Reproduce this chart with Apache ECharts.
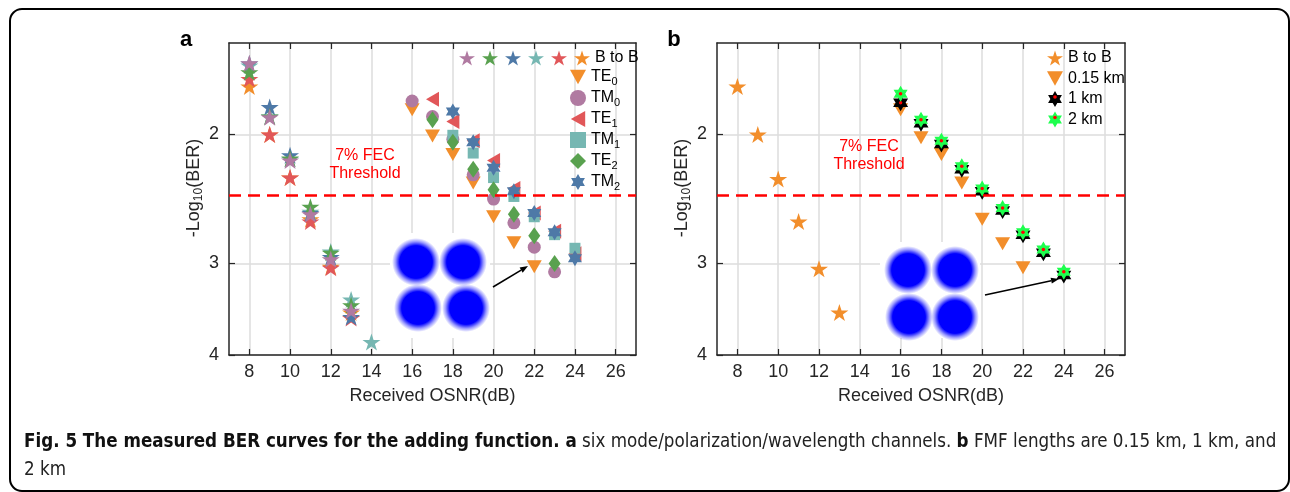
<!DOCTYPE html>
<html><head><meta charset="utf-8">
<script src="https://cdn.jsdelivr.net/npm/echarts@6/dist/echarts.min.js"></script>
<style>html,body{margin:0;padding:0;background:#fff}#c{width:1290px;height:492px}</style>
</head><body><div id="c"></div>
<script>
// ---------------- data ----------------
const xTicks = [8, 10, 12, 14, 16, 18, 20, 22, 24, 26];
const yTicks = [2, 3, 4];
const fecThreshold = 2.42;

// panel a: back-to-back (stars)
const osnrBtB = [8, 9, 10, 11, 12, 13, 14];
const btbTE0 = [1.72, 2.00, 2.29, 2.61, 3.03, 3.50, null];   // orange
const btbTE1 = [1.68, 2.00, 2.29, 2.63, 3.04, 3.56, null];   // red
const btbTM1 = [1.61, 1.89, 2.16, 2.55, 2.89, 3.36, 3.84];   // teal
const btbTM2 = [1.60, 1.835, 2.134, 2.56, 2.94, 3.55, null]; // blue
const btbTE2 = [1.644, 1.89, 2.156, 2.51, 2.90, 3.42, null]; // green
const btbTM0 = [1.598, 1.894, 2.17, 2.57, 2.96, 3.48, null]; // purple

// panel a: after transmission
const osnrMeas = [16, 17, 18, 19, 20, 21, 22, 23, 24];
const measTE0 = [1.85, 2.01, 2.13, 2.33, 2.59, 2.81, 3.03, null, null];
const measTM0 = [1.80, 1.89, 2.03, 2.27, 2.45, 2.64, 2.85, 3.08, null];
const measTE1 = [null, 1.79, 1.92, 2.04, 2.17, 2.37, 2.56, 2.71, 2.91];
const measTM1 = [null, null, 2.005, 2.12, 2.29, 2.43, 2.59, 2.74, 2.86];
const measTE2 = [null, 1.91, 2.05, 2.23, 2.38, 2.57, 2.75, 3.00, null];
const measTM2 = [null, null, 1.86, 2.05, 2.22, 2.39, 2.56, 2.72, 2.95];

// panel b
const osnrB_BtB = [8, 9, 10, 11, 12, 13];
const bBtB = [1.72, 2.00, 2.30, 2.63, 3.05, 3.50];
const osnrB = [16, 17, 18, 19, 20, 21, 22, 23, 24];
const b015km = [1.85, 2.02, 2.13, 2.33, 2.61, 2.82, 3.04, null, null];
const b1km = [1.81, 1.93, 2.06, 2.23, 2.39, 2.54, 2.74, 2.90, 3.11];
const b2km = [1.76, 1.91, 2.04, 2.21, 2.37, 2.52, 2.72, 2.87, 3.08];

// ---------------- styling ----------------
const STAR = 'path://M50 0L61.23 34.55L97.55 34.55L68.17 55.9L79.39 90.45L50 69.1L20.61 90.45L31.83 55.9L2.45 34.55L38.77 34.55Z';
const HEX = 'path://M50 0L64.43 25L93.3 25L78.87 50L93.3 75L64.43 75L50 100L35.57 75L6.7 75L21.13 50L6.7 25L35.57 25Z';
const TRI_DOWN = 'path://M0 0L100 0L50 90Z';
const TRI_LEFT = 'path://M90 0L90 100L0 50Z';
const C = {blue:'#4E79A7', orange:'#F28E2B', red:'#E15759', teal:'#76B7B2', green:'#59A14F', purple:'#B07AA1', lime:'#1EFF4E'};
const FONT = "'Liberation Sans', Arial, Helvetica, sans-serif";
const AX = '#262626';

function pts(xs, ys) { const o = []; xs.forEach((x, i) => { if (ys[i] != null) o.push([x, ys[i]]); }); return o; }

function xAxes(g) {
  return [
    {type:'value', gridIndex:g, min:7, max:27, position:'bottom',
     name:'Received OSNR(dB)', nameLocation:'middle', nameGap:32,
     nameTextStyle:{fontSize:18, color:AX, fontFamily:FONT},
     axisLine:{show:true, onZero:false, lineStyle:{color:AX, width:1.5}},
     axisTick:{show:true, inside:true, length:6, customValues:xTicks, lineStyle:{color:AX, width:1.2}},
     axisLabel:{show:true, customValues:xTicks, fontSize:18, color:AX, fontFamily:FONT, margin:8},
     splitLine:{show:true, lineStyle:{color:'#DCDCDC', width:1.5}}},
    {type:'value', gridIndex:g, min:7, max:27, position:'top',
     axisLine:{show:true, onZero:false, lineStyle:{color:AX, width:1.5}},
     axisTick:{show:true, inside:true, length:6, customValues:xTicks, lineStyle:{color:AX, width:1.2}},
     axisLabel:{show:false}, splitLine:{show:false}}
  ];
}
function yAxes(g) {
  return [
    {type:'log', logBase:10, gridIndex:g, min:1.5, max:4, inverse:true, position:'left',
     name:'{m|-Log}{s|10}{m|(BER)}', nameLocation:'middle', nameGap:24,
     nameTextStyle:{color:AX, fontFamily:FONT, padding:[0,0,0,22],
       rich:{m:{fontSize:18, lineHeight:22, fontFamily:FONT, color:AX},
             s:{fontSize:12, lineHeight:11, verticalAlign:'bottom', fontFamily:FONT, color:AX}}},
     axisLine:{show:true, onZero:false, lineStyle:{color:AX, width:1.5}},
     axisTick:{show:true, inside:true, length:6, customValues:yTicks, lineStyle:{color:AX, width:1.2}},
     axisLabel:{show:true, customValues:yTicks, fontSize:18, color:AX, fontFamily:FONT, margin:10},
     splitLine:{show:true, lineStyle:{color:'#DCDCDC', width:1.5}}},
    {type:'log', logBase:10, gridIndex:g, min:1.5, max:4, inverse:true, position:'right',
     axisLine:{show:true, onZero:false, lineStyle:{color:AX, width:1.5}},
     axisTick:{show:true, inside:true, length:6, customValues:yTicks, lineStyle:{color:AX, width:1.2}},
     axisLabel:{show:false}, splitLine:{show:false}}
  ];
}

const fecLine = {
  silent:true, symbol:['none','none'], label:{show:false},
  lineStyle:{color:'#FF0000', type:[12,7], width:2.5},
  data:[{yAxis:fecThreshold}]
};

function sc(name, xi, yi, data, symbol, size, color, extra) {
  return Object.assign({type:'scatter', name, xAxisIndex:xi, yAxisIndex:yi, data, symbol, symbolSize:size,
    itemStyle:{color, opacity:1}, emphasis:{disabled:true}, animation:false}, extra || {});
}

const series = [
  // panel a, back-to-back stars (drawn bottom to top)
  sc('BtB TE0', 0, 0, pts(osnrBtB, btbTE0), STAR, [18,17], C.orange, {markLine:fecLine}),
  sc('BtB TE1', 0, 0, pts(osnrBtB, btbTE1), STAR, [18,17], C.red),
  sc('BtB TM1', 0, 0, pts(osnrBtB, btbTM1), STAR, [18,17], C.teal),
  sc('BtB TM2', 0, 0, pts(osnrBtB, btbTM2), STAR, [18,17], C.blue),
  sc('BtB TE2', 0, 0, pts(osnrBtB, btbTE2), STAR, [18,17], C.green),
  sc('BtB TM0', 0, 0, pts(osnrBtB, btbTM0), STAR, [18,17], C.purple),
  // panel a, measured
  sc('TE0', 0, 0, pts(osnrMeas, measTE0), TRI_DOWN, [15,13], C.orange),
  sc('TM0', 0, 0, pts(osnrMeas, measTM0), 'circle', 13, C.purple),
  sc('TE1', 0, 0, pts(osnrMeas, measTE1), TRI_LEFT, [13,15], C.red),
  sc('TM1', 0, 0, pts(osnrMeas, measTM1), 'rect', 11, C.teal),
  sc('TE2', 0, 0, pts(osnrMeas, measTE2), 'diamond', [12,17], C.green),
  sc('TM2', 0, 0, pts(osnrMeas, measTM2), HEX, [14,16], C.blue),
  // panel b
  sc('B to B', 2, 2, pts(osnrB_BtB, bBtB), STAR, [18,17], C.orange, {markLine:fecLine}),
  sc('0.15 km', 2, 2, pts(osnrB, b015km), TRI_DOWN, [15,13], C.orange),
  sc('1 km', 2, 2, pts(osnrB, b1km), HEX, [15,17], '#000000'),
  sc('1 km dot', 2, 2, pts(osnrB, b1km), 'circle', 3.5, '#FF0000'),
  sc('2 km', 2, 2, pts(osnrB, b2km), HEX, [14,16], C.lime),
  sc('2 km dot', 2, 2, pts(osnrB, b2km), 'circle', 3.5, '#FF0000')
];

const subFmt = n => { const m = n.match(/^(T[EM])(\d)$/); return m ? '{m|' + m[1] + '}{s|' + m[2] + '}' : n; };
const legText = {fontSize:16, color:'#000', fontFamily:FONT, lineHeight:20};

// legend b positions (also used for the red centre dots of the icons)
const legB = {left:1047, top:48, gap:0.5, h:20};

const legends = [
  {orient:'horizontal', left:459, top:48, padding:0, itemWidth:16, itemHeight:16, itemGap:2, selectedMode:false,
   data:['BtB TM0','BtB TE2','BtB TM2','BtB TM1','BtB TE1','BtB TE0'],
   formatter: n => n === 'BtB TE0' ? 'B to B' : '', textStyle:legText},
  {orient:'vertical', left:570, top:69, padding:0, itemWidth:16, itemHeight:16, itemGap:3, selectedMode:false,
   data:['TE0','TM0','TE1','TM1','TE2','TM2'], formatter:subFmt,
   textStyle:{fontSize:16, color:'#000', fontFamily:FONT,
     rich:{m:{fontSize:16, lineHeight:20, fontFamily:FONT, color:'#000'},
           s:{fontSize:11, lineHeight:10, verticalAlign:'bottom', fontFamily:FONT, color:'#000'}}}},
  {orient:'vertical', left:legB.left, top:legB.top, padding:0, itemWidth:16, itemHeight:16, itemGap:legB.gap, selectedMode:false,
   data:['B to B','0.15 km','1 km','2 km'], textStyle:legText}
];

// ---------------- decorations ----------------
function cluster(cx, cy) {
  return {type:'circle', z:3, silent:true, shape:{cx, cy, r:24},
    style:{fill:{type:'radial', x:0.5, y:0.5, r:0.5, colorStops:[
      {offset:0, color:'rgba(0,0,255,1)'}, {offset:0.68, color:'rgba(0,0,255,1)'},
      {offset:0.85, color:'rgba(0,0,255,0.4)'}, {offset:1, color:'rgba(0,0,255,0)'}]}}};
}
function arrow(x1, y1, x2, y2) {
  const dx = x2 - x1, dy = y2 - y1, L = Math.hypot(dx, dy), ux = dx / L, uy = dy / L;
  const bx = x2 - 8 * ux, by = y2 - 8 * uy, px = -uy, py = ux;
  return [
    {type:'line', z:3, silent:true, shape:{x1, y1, x2:bx, y2:by}, style:{stroke:'#000', lineWidth:1.6}},
    {type:'polygon', z:3, silent:true, shape:{points:[[x2,y2],[bx+3*px,by+3*py],[bx-3*px,by-3*py]]}, style:{fill:'#000'}}
  ];
}

// caption sizing
const capFont = "'Liberation Sans Narrow','DejaVu Sans Condensed','Open Sans',sans-serif";
const capB1 = 'Fig. 5 The measured BER curves for the adding function.';
const capN1 = ' six mode/polarization/wavelength channels. ';
const capN2 = ' FMF lengths are 0.15 km, 1 km, and';
function mw(t, w) { const c = document.createElement('canvas').getContext('2d'); c.font = w + ' 100px ' + capFont; return c.measureText(t).width; }
const w100 = mw(capB1 + ' a', 'bold') + mw(capN1, 'normal') + mw('b', 'bold') + mw(capN2, 'normal');
const capSize = 100 * 1253 / w100;
const capRich = {
  b:{fontWeight:'bold', fontSize:capSize, fontFamily:capFont, fill:'#111'},
  n:{fontWeight:'normal', fontSize:capSize, fontFamily:capFont, fill:'#222'}
};

const graphic = [
  {type:'rect', silent:true, z:0, shape:{x:10, y:9, width:1279, height:482, r:12}, style:{fill:'none', stroke:'#000', lineWidth:2}},
  {type:'text', silent:true, style:{text:'a', x:186, y:40, fontSize:22, fontWeight:'bold', fontFamily:FONT, fill:'#000', align:'center', verticalAlign:'middle'}},
  {type:'text', silent:true, style:{text:'b', x:674, y:40, fontSize:22, fontWeight:'bold', fontFamily:FONT, fill:'#000', align:'center', verticalAlign:'middle'}},
  {type:'text', silent:true, z:3, style:{text:'7% FEC\nThreshold', x:365, y:165, fontSize:16, lineHeight:18, fontFamily:FONT, fill:'#FF0000', align:'center', verticalAlign:'middle'}},
  {type:'text', silent:true, z:3, style:{text:'7% FEC\nThreshold', x:869, y:156, fontSize:16, lineHeight:18, fontFamily:FONT, fill:'#FF0000', align:'center', verticalAlign:'middle'}},
  // constellation insets
  {type:'rect', silent:true, z:2, shape:{x:390, y:233, width:100, height:105}, style:{fill:'#fff'}},
  cluster(416, 262), cluster(463, 262), cluster(418, 308), cluster(466, 308),
  {type:'rect', silent:true, z:2, shape:{x:880, y:242, width:100, height:96}, style:{fill:'#fff'}},
  cluster(908, 270), cluster(955, 270), cluster(909, 317), cluster(955, 317),
  ...arrow(493, 287, 528, 266),
  ...arrow(985, 295, 1059, 279),
  // red centre dots on the 1 km / 2 km legend icons
  {type:'circle', silent:true, z:10, shape:{cx:legB.left + 8, cy:legB.top + 2 * (legB.h + legB.gap) + legB.h / 2 - 2, r:1.8}, style:{fill:'#FF0000'}},
  {type:'circle', silent:true, z:10, shape:{cx:legB.left + 8, cy:legB.top + 3 * (legB.h + legB.gap) + legB.h / 2 - 2, r:1.8}, style:{fill:'#FF0000'}},
  // caption
  {type:'text', silent:true, style:{x:24, y:442, verticalAlign:'middle', rich:capRich,
     text:'{b|' + capB1 + ' a}{n|' + capN1 + '}{b|b}{n|' + capN2 + '}'}},
  {type:'text', silent:true, style:{x:24, y:470, verticalAlign:'middle', text:'2 km', fontSize:capSize, fontFamily:capFont, fill:'#222'}}
];

const chart = echarts.init(document.getElementById('c'), null, {renderer:'canvas'});
chart.setOption({
  animation:false,
  backgroundColor:'#fff',
  grid:[{left:229, top:43, width:407, height:312}, {left:717, top:43, width:408, height:312}],
  xAxis:[...xAxes(0), ...xAxes(1)],
  yAxis:[...yAxes(0), ...yAxes(1)],
  legend:legends,
  series,
  graphic
});
</script></body></html>
